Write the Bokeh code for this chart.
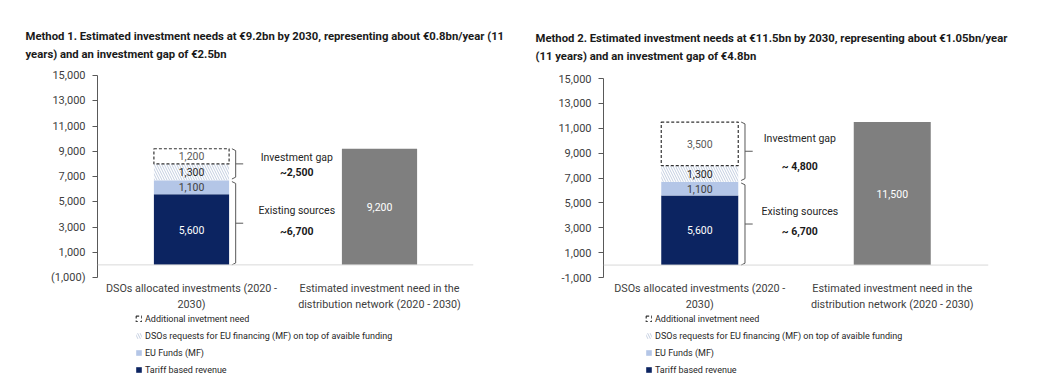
from bokeh.plotting import figure
from bokeh.models import (Range1d, Span, Legend, LegendItem, NumeralTickFormatter,
                          FixedTicker, Title)
from bokeh.layouts import row, column
from bokeh.embed import file_html
from bokeh.resources import INLINE
from bokeh.core.properties import value

# ---------------- data ----------------
categories = ["DSOs allocated investments (2020 -\n2030)",
              "Estimated investment need in the\ndistribution network (2020 - 2030)"]
tariff_revenue = 5600
eu_funds = 1100
eu_requests = 1300
gap_method1 = 1200
gap_method2 = 3500
need_method1 = 9200
need_method2 = 11500
gap_text = ["~2,500", "~ 4,800"]
existing_text = ["~6,700", "~ 6,700"]
titles = ["Method 1. Estimated investment needs at €9.2bn by 2030, representing about €0.8bn/year (11\nyears) and an investment gap of €2.5bn",
          "Method 2. Estimated investment needs at €11.5bn by 2030, representing about €1.05bn/year\n(11 years) and an investment gap of €4.8bn"]
y_ticks = [-1000, 1000, 3000, 5000, 7000, 9000, 11000, 13000, 15000]
legend_labels = ["Additional invetment need",
                 "DSOs requests for EU financing (MF) on top of avaible funding",
                 "EU Funds (MF)",
                 "Tariff based revenue"]

NAVY = "#0c2461"
LIGHT = "#b4c6e7"
HATCH = "#c3cee0"
GRAY = "#7f7f7f"
TXT = "#404040"
FONT = "Roboto"

STYLE_TAR = dict(fill_color=NAVY, line_color=None)
STYLE_EU = dict(fill_color=LIGHT, line_color=None)
STYLE_REQ = dict(fill_color="white", line_color=None, hatch_pattern="\\", hatch_color=HATCH,
                 hatch_scale=5, hatch_weight=1)
STYLE_GAP = dict(fill_color="white", line_color="#333333", line_dash="3 2", line_width=1.2)


def fmt(v):
    return f"{v:,}"


def chart(title, gap, need, gtxt, etxt, numfmt, width, left_b, frame_w, frame_top, frame_h,
          height, title_x, title_standoff, tx):
    p = figure(width=width, height=height, output_backend="svg", toolbar_location=None,
               x_range=Range1d(0, 2), y_range=Range1d(-1000, 15000),
               min_border_left=left_b, min_border_right=width - left_b - frame_w,
               min_border_top=frame_top, min_border_bottom=height - frame_top - frame_h)
    p.outline_line_color = None
    p.grid.visible = False
    p.background_fill_color = "white"

    t = Title(text=title, align="left", offset=title_x - left_b, text_font=FONT,
              text_font_size="11.3px", text_font_style="bold", text_color="#1a1a1a",
              standoff=title_standoff, text_line_height=1.4)
    p.add_layout(t, "above")

    x0 = 0.5
    x1 = 1.5
    w = 0.4
    existing = tariff_revenue + eu_funds
    p.vbar(x=[x0], bottom=[0], top=[tariff_revenue], width=w, **STYLE_TAR)
    p.vbar(x=[x0], bottom=[tariff_revenue], top=[existing], width=w, **STYLE_EU)
    p.vbar(x=[x0], bottom=[existing], top=[existing + eu_requests], width=w, **STYLE_REQ)
    p.vbar(x=[x0], bottom=[existing + eu_requests], top=[existing + eu_requests + gap], width=w,
           **STYLE_GAP)
    p.vbar(x=[x1], bottom=[0], top=[need], width=w, fill_color=GRAY, line_color=None)

    p.add_layout(Span(location=0, dimension="width", line_color="#d9d9d9", line_width=1))

    # value labels
    segs = [(0, tariff_revenue, "white"), (tariff_revenue, eu_funds, TXT),
            (existing, eu_requests, "#262626"), (existing + eu_requests, gap, "#595959")]
    for b, v, c in segs:
        p.text(x=[x0], y=[b + v / 2], text=[fmt(v)], text_align="center", text_baseline="middle",
               text_font=value(FONT), text_font_size="10.5px", text_color=c)
    p.text(x=[x1], y=[need / 2], text=[fmt(need)], text_align="center", text_baseline="middle",
           text_font=value(FONT), text_font_size="10.5px", text_color="white")

    # brackets
    bx = x0 + w / 2 + 0.035
    for lo, hi in [(existing + 100, existing + eu_requests + gap), (0, existing - 100)]:
        mid = (lo + hi) / 2
        p.multi_line(xs=[[bx - 0.02, bx, bx, bx - 0.02], [bx, bx + 0.04]],
                     ys=[[hi, hi - 150, lo + 150, lo], [mid, mid]],
                     line_color="#595959", line_width=1)

    gap_total = eu_requests + gap
    p.text(x=[tx], y=[existing + gap_total * 0.72], text=["Investment gap"], text_align="center",
           text_baseline="middle", text_font=value(FONT), text_font_size="10.5px", text_color="#262626")
    p.text(x=[tx], y=[existing + gap_total * 0.26], text=[gtxt], text_align="center",
           text_baseline="middle", text_font=value(FONT), text_font_size="10.5px",
           text_font_style="bold", text_color="#1a1a1a")
    p.text(x=[tx], y=[existing * 0.64], text=["Existing sources"], text_align="center",
           text_baseline="middle", text_font=value(FONT), text_font_size="10.5px", text_color="#262626")
    p.text(x=[tx], y=[existing * 0.40], text=[etxt], text_align="center",
           text_baseline="middle", text_font=value(FONT), text_font_size="10.5px",
           text_font_style="bold", text_color="#1a1a1a")

    # axes
    ya = p.yaxis[0]
    ya.ticker = FixedTicker(ticks=y_ticks)
    ya.formatter = NumeralTickFormatter(format=numfmt)
    ya.axis_line_color = "#595959"
    ya.major_tick_line_color = "#595959"
    ya.major_tick_out = 5
    ya.major_tick_in = 0
    ya.minor_tick_line_color = None
    ya.major_label_text_font = FONT
    ya.major_label_text_font_size = "11px"
    ya.major_label_text_color = TXT
    ya.major_label_standoff = 7

    xa = p.xaxis[0]
    xa.ticker = FixedTicker(ticks=[x0, x1])
    xa.major_label_overrides = {x0: categories[0], x1: categories[1]}
    xa.axis_line_color = None
    xa.major_tick_line_color = None
    xa.major_tick_out = 0
    xa.major_tick_in = 0
    xa.minor_tick_line_color = None
    xa.major_label_text_font = FONT
    xa.major_label_text_font_size = "10.8px"
    xa.major_label_text_color = TXT
    xa.major_label_text_line_height = 1.25
    xa.major_label_standoff = 4
    return p


def legend_fig(width, left_b, height, offset):
    q = figure(width=width, height=height, output_backend="svg", toolbar_location=None,
               x_range=Range1d(0, 1), y_range=Range1d(0, 1),
               min_border_left=left_b, min_border_right=0, min_border_top=0, min_border_bottom=0)
    q.xaxis.visible = False
    q.yaxis.visible = False
    q.grid.visible = False
    q.outline_line_color = None
    nan = float("nan")
    # legend proxies with no drawable geometry
    r_gap = q.vbar(x=[nan], bottom=[nan], top=[nan], width=0.1, **STYLE_GAP)
    r_req = q.vbar(x=[nan], bottom=[nan], top=[nan], width=0.1, **STYLE_REQ)
    r_eu = q.vbar(x=[nan], bottom=[nan], top=[nan], width=0.1, **STYLE_EU)
    r_tar = q.vbar(x=[nan], bottom=[nan], top=[nan], width=0.1, **STYLE_TAR)
    items = [LegendItem(label=legend_labels[0], renderers=[r_gap]),
             LegendItem(label=legend_labels[1], renderers=[r_req]),
             LegendItem(label=legend_labels[2], renderers=[r_eu]),
             LegendItem(label=legend_labels[3], renderers=[r_tar])]
    lg = Legend(items=items, location=(offset, height - 62), orientation="vertical",
                label_text_font=FONT, label_text_font_size="9px", label_text_color="#262626",
                glyph_width=7, glyph_height=7, label_height=11, label_standoff=3, spacing=6,
                padding=0, margin=0, border_line_color=None, background_fill_alpha=0)
    q.add_layout(lg, "center")
    return q


CH = 313
LH = 375 - CH
p1 = chart(titles[0], gap_method1, need_method1, gap_text[0], existing_text[0], "(0,0)",
           518, 97, 376, 75, 206, CH, 25, 29, 1.06)
p2 = chart(titles[1], gap_method2, need_method2, gap_text[1], existing_text[1], "0,0",
           530, 85, 385, 78, 203, CH, 17, 31, 1.02)
l1 = legend_fig(518, 97, LH, 38)
l2 = legend_fig(530, 85, LH, 42)

layout = row(column(p1, l1, spacing=0), column(p2, l2, spacing=0), spacing=0)
open("out.html", "w").write(file_html(layout, INLINE))
